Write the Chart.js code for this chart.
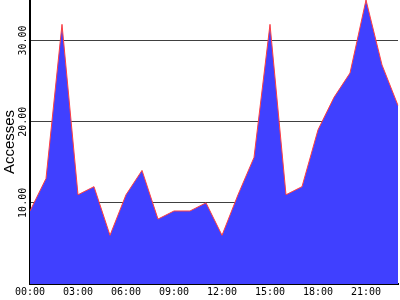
<!DOCTYPE html>
<html>
<head>
<meta charset="utf-8">
<script src="https://cdn.jsdelivr.net/npm/chart.js@4/dist/chart.umd.min.js"></script>
<style>
  html, body { margin: 0; padding: 0; background: #fff; }
  #wrap { width: 400px; height: 300px; }
</style>
</head>
<body>
<div id="wrap"><canvas id="accessChart"></canvas></div>
<script>
const hours = ['00:00', '01:00', '02:00', '03:00', '04:00', '05:00', '06:00', '07:00',
  '08:00', '09:00', '10:00', '11:00', '12:00', '13:00', '14:00', '15:00',
  '16:00', '17:00', '18:00', '19:00', '20:00', '21:00', '22:00', '23:00'];
const accesses = [9, 13, 32, 11, 12, 6, 11, 14, 8, 9, 9, 10,
  6, 11, 15.6, 32, 11, 12, 19, 23, 26, 35, 27, 22];
const yTicks = [10, 20, 30];

const tickFont = { family: 'DejaVu Sans Mono', size: 10 };

new Chart(document.getElementById('accessChart').getContext('2d'), {
  type: 'line',
  data: {
    labels: hours,
    datasets: [{
      data: accesses,
      fill: 'origin',
      backgroundColor: '#4040ff',
      borderColor: '#ff4040',
      borderWidth: 1,
      tension: 0,
      pointRadius: 0,
    }],
  },
  options: {
    responsive: true,
    maintainAspectRatio: false,
    animation: false,
    layout: { padding: { top: 0, right: 1, bottom: 0, left: 0 } },
    plugins: { legend: { display: false }, tooltip: { enabled: false } },
    scales: {
      x: {
        type: 'category',
        offset: false,
        grid: { display: false, drawTicks: false },
        border: { display: true, color: '#000', width: 2 },
        ticks: {
          color: '#000',
          font: tickFont,
          padding: 2,
          autoSkip: false,
          maxRotation: 0,
          callback: (v, i) => (i % 3 === 0 ? hours[i] : ''),
        },
      },
      y: {
        min: 0,
        max: 35,
        grid: { color: '#404040', lineWidth: 1, drawTicks: false },
        border: { display: true, color: '#000', width: 2 },
        afterFit(scale) {
          scale.width = 30;
          scale.paddingTop = 0;
          scale.paddingBottom = 0;
        },
        afterBuildTicks(scale) {
          scale.ticks = yTicks.map(v => ({ value: v }));
        },
        ticks: {
          color: '#000',
          font: tickFont,
          minRotation: 90,
          maxRotation: 90,
          crossAlign: 'center',
          padding: -8,
          callback: v => v.toFixed(2),
        },
        title: {
          display: true,
          text: 'Accesses',
          color: '#000',
          font: { family: 'Liberation Sans', size: 15 },
          padding: { top: 1, bottom: 0 },
        },
      },
    },
  },
});
</script>
</body>
</html>
